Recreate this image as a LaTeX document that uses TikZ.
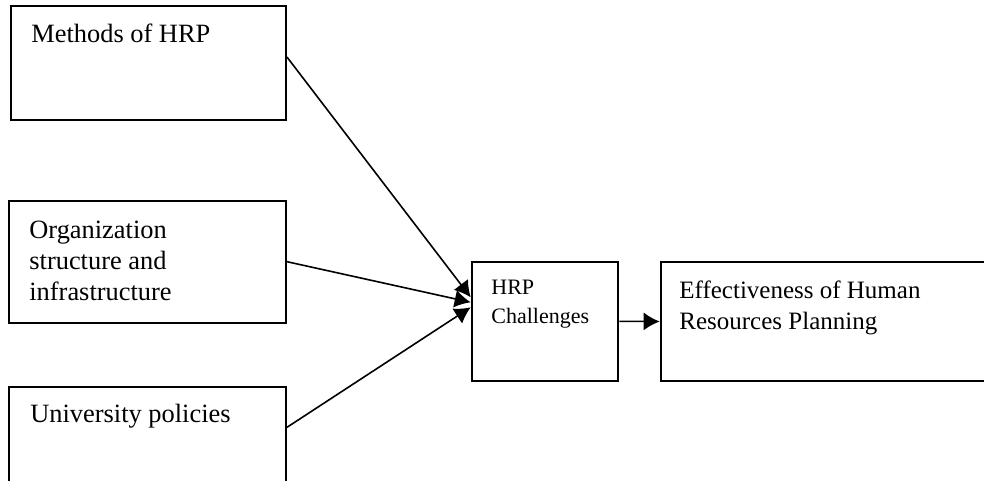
\documentclass[tikz,border=0pt]{standalone}
\usepackage{fontspec}
\setmainfont{Liberation Serif}
\usetikzlibrary{positioning, arrows.meta}

\begin{document}
\begin{tikzpicture}[x=0.5pt, y=-0.5pt, >={Latex[length=8pt,width=9pt]}]
    \tikzstyle{box} = [draw, line width=1pt, rectangle, inner sep=0pt]
    \tikzstyle{txt} = [anchor=north west, inner sep=0pt, align=left, font=\fontsize{13.2}{15.3}\selectfont]
    \tikzstyle{conn} = [line width=0.8pt]
    \clip (0,0) rectangle (984,481);

    % Boxes on the left
    \node[box, minimum width=137.65pt, minimum height=57pt] (methods) at (148.3, 63) {};
    \node[box, minimum width=138.5pt, minimum height=61pt] (org) at (147.5, 261.7) {};
    \node[box, minimum width=138.5pt, minimum height=56.7pt] (univ) at (147.5, 443.3) {};
    \node[txt] (methodsText) at (31, 24) {Methods of HRP};
    \node[txt] (orgText) at (29, 221) {Organization\\structure and\\infrastructure};
    \node[txt] (univText) at (30, 404) {University policies};

    % Challenges and result
    \node[box, minimum width=73.3pt, minimum height=59.65pt] (hrp) at (545, 321.3) {};
    \node[box, minimum width=169.65pt, minimum height=59.5pt] (eff) at (830.3, 321.5) {};
    \node[txt, font=\fontsize{11}{14.2}\selectfont] (hrpText) at (491, 280) {HRP\\Challenges};
    \node[txt, font=\fontsize{12.5}{15.8}\selectfont] (effText) at (679, 280) {Effectiveness of Human\\Resources Planning};

    % Arrows
    \draw[conn, ->] ([yshift=3pt]methods.east) -- ([yshift=12pt]hrp.west);
    \draw[conn, ->] (org.east) -- ([yshift=9.5pt]hrp.west);
    \draw[conn, ->] ([yshift=8pt]univ.east) -- ([yshift=7pt]hrp.west);
    \draw[conn, ->] (hrp.east) -- (eff.west);
\end{tikzpicture}
\end{document}
